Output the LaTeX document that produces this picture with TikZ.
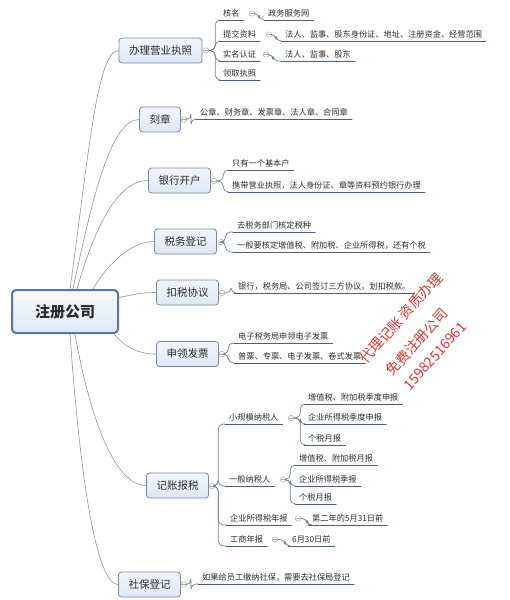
\documentclass[tikz,border=0pt]{standalone}
\usepackage{fontspec}
\setmainfont{Noto Sans CJK SC}
\definecolor{boxfill}{RGB}{221,232,245}
\definecolor{boxline}{RGB}{118,138,168}
\definecolor{rootline}{RGB}{84,118,172}
\definecolor{ulc}{RGB}{72,98,135}
\definecolor{connc}{RGB}{150,150,150}
\definecolor{foldc}{RGB}{165,165,165}
\definecolor{txt}{RGB}{45,45,45}
\definecolor{stamp}{RGB}{232,50,50}
\tikzset{
  root/.style={draw=rootline, line width=2pt, top color=white!80!boxfill, bottom color=boxfill, rounded corners=4pt,
    minimum width=106pt, minimum height=43pt, font=\fontsize{15}{18}\selectfont\bfseries, text=txt},
  topic/.style={draw=boxline, line width=0.8pt, top color=white!60!boxfill, bottom color=boxfill, rounded corners=3pt,
    minimum height=25pt, inner xsep=10pt, font=\fontsize{10.5}{12}\selectfont, text=txt},
  leaf/.style={anchor=south west, inner xsep=4pt, inner ysep=2.5pt, font=\fontsize{8.2}{9}\selectfont, text=txt,
    append after command={(\tikzlastnode.south west) edge[uline] (\tikzlastnode.south east)}},
  uline/.style={draw=ulc, line width=1pt},
  fold/.style={circle, draw=foldc, fill=white, line width=0.5pt, inner sep=0pt, minimum size=5.5pt,
    path picture={\draw[foldc, line width=0.5pt] ([xshift=-1.4pt]path picture bounding box.center) -- ([xshift=1.4pt]path picture bounding box.center);}},
  conn/.style={draw=connc, line width=0.6pt},
  branch/.style={draw=ulc!80!white, line width=0.7pt, rounded corners=5pt},
  stamptext/.style={text=stamp, rotate=48, inner sep=0pt, font=\fontsize{14}{16}\selectfont}
}
\begin{document}
\begin{tikzpicture}[x=1pt,y=1pt,line cap=round,line join=round]
\useasboundingbox (0,0) rectangle (509,-600);
% root and main topics
\node[root] (reg) at (65,-311.5) {注册公司};
\node[topic] (lic) at (160.5,-50.5) {办理营业执照};
\node[topic] (seal) at (160,-119.5) {刻章};
\node[topic] (bank) at (179.5,-180.5) {银行开户};
\node[topic] (taxreg) at (185.5,-241.5) {税务登记};
\node[topic] (deduct) at (187.5,-292.5) {扣税协议};
\node[topic] (invoice) at (187.5,-354) {申领发票};
\node[topic] (books) at (177.5,-485.5) {记账报税};
\node[topic] (social) at (149.5,-584.5) {社保登记};
% curves from the root
\draw[conn] ([xshift=5pt]reg.north) .. controls +(82:130) and +(-22,0) .. (lic.west);
\draw[conn] ([xshift=8pt]reg.north) .. controls +(78:95) and +(-28,0) .. (seal.west);
\draw[conn] ([xshift=12pt]reg.north) .. controls +(74:60) and +(-32,0) .. (bank.west);
\draw[conn] ([xshift=28pt]reg.north) .. controls +(60:25) and +(-25,0) .. (taxreg.west);
\draw[conn] ([yshift=14pt]reg.east) .. controls +(15,3) and +(-15,0) .. (deduct.west);
\draw[conn] ([xshift=-5pt]reg.south east) .. controls +(-50:15) and +(-20,0) .. (invoice.west);
\draw[conn] ([xshift=10pt]reg.south) .. controls +(-80:70) and +(-35,0) .. (books.west);
\draw[conn] ([xshift=5pt]reg.south) .. controls +(-86:160) and +(-20,0) .. (social.west);
% fold markers of the topics
\node[fold] (f1) at (206,-50.5) {};
\node[fold] (f2) at (184,-119.5) {};
\node[fold] (f3) at (214,-181) {};
\node[fold] (f4) at (221,-242) {};
\node[fold] (f5) at (222,-293) {};
\node[fold] (f6) at (222,-354) {};
\node[fold] (f7) at (212,-486) {};
\node[fold] (f8) at (184,-584.5) {};
% 办理营业执照
\node[leaf] (a11) at (219,-20) {核名};
\node[leaf] (a12) at (219,-41) {提交资料};
\node[leaf] (a13) at (219,-61) {实名认证};
\node[leaf] (a14) at (219,-80) {领取执照};
\node[fold] (f11) at (252,-13.5) {};
\node[fold] (f12) at (269,-34.5) {};
\node[fold] (f13) at (266,-54.5) {};
\node[leaf] (b11) at (264,-20) {政务服务网};
\node[leaf] (b12) at (281,-41) {法人、监事、股东身份证、地址、注册资金、经营范围};
\node[leaf] (b13) at (281,-61) {法人、监事、股东};
\draw[branch] (f1.east) -- ++(6.2,0) |- (a11.south west);
\draw[branch] (f1.east) -- ++(6.2,0) |- (a12.south west);
\draw[branch] (f1.east) -- ++(6.2,0) |- (a13.south west);
\draw[branch] (f1.east) -- ++(6.2,0) |- (a14.south west);
\draw[branch] (f11.east) -- ++(4,0) |- (b11.south west);
\draw[branch] (f12.east) -- ++(4,0) |- (b12.south west);
\draw[branch] (f13.east) -- ++(4,0) |- (b13.south west);
% 刻章
\node[leaf] (a21) at (196,-119) {公章、财务章、发票章、法人章、合同章};
\draw[branch] (f2.east) -- ++(4,0) |- (a21.south west);
% 银行开户
\node[leaf] (a31) at (228,-170) {只有一个基本户};
\node[leaf] (a32) at (228,-192) {携带营业执照，法人身份证、章等资料预约银行办理};
\draw[branch] (f3.east) -- ++(6.2,0) |- (a31.south west);
\draw[branch] (f3.east) -- ++(6.2,0) |- (a32.south west);
% 税务登记
\node[leaf] (a41) at (233,-232) {去税务部门核定税种};
\node[leaf] (a42) at (233,-252) {一般要核定增值税、附加税、企业所得税，还有个税};
\draw[branch] (f4.east) -- ++(1.5,0) |- (a41.south west);
\draw[branch] (f4.east) -- ++(1.5,0) |- (a42.south west);
% 扣税协议
\node[leaf] (a51) at (234,-293) {银行，税务局、公司签订三方协议，划扣税款。};
\draw[branch] (f5.east) -- ++(6,0) |- (a51.south west);
% 申领发票
\node[leaf] (a61) at (234,-343) {电子税务局申领电子发票};
\node[leaf] (a62) at (234,-363) {普票、专票、电子发票、卷式发票};
\draw[branch] (f6.east) -- ++(3.2,0) |- (a61.south west);
\draw[branch] (f6.east) -- ++(3.2,0) |- (a62.south west);
% 记账报税
\node[leaf] (a71) at (225,-424) {小规模纳税人};
\node[leaf] (a72) at (225,-486) {一般纳税人};
\node[leaf] (a73) at (226,-525) {企业所得税年报};
\node[leaf] (a74) at (226,-546) {工商年报};
\draw[branch] (f7.east) -- ++(3.2,0) |- (a71.south west);
\draw[branch] (f7.east) -- ++(3.2,0) |- (a72.south west);
\draw[branch] (f7.east) -- ++(3.2,0) |- (a73.south west);
\draw[branch] (f7.east) -- ++(3.2,0) |- (a74.south west);
\node[fold] (f71) at (291,-418) {};
\node[fold] (f72) at (283,-479.5) {};
\node[fold] (f73) at (298,-518.5) {};
\node[fold] (f74) at (275,-539.5) {};
\node[leaf] (b711) at (304,-404) {增值税、附加税季度申报};
\node[leaf] (b712) at (304,-424) {企业所得税季度申报};
\node[leaf] (b713) at (304,-445) {个税月报};
\node[leaf] (b721) at (295,-465) {增值税、附加税月报};
\node[leaf] (b722) at (295,-486) {企业所得税季报};
\node[leaf] (b723) at (295,-504) {个税月报};
\node[leaf] (b731) at (308,-525) {第二年的5月31日前};
\node[leaf] (b741) at (288,-546) {6月30日前};
\draw[branch] (f71.east) -- ++(6.2,0) |- (b711.south west);
\draw[branch] (f71.east) -- ++(6.2,0) |- (b712.south west);
\draw[branch] (f71.east) -- ++(6.2,0) |- (b713.south west);
\draw[branch] (f72.east) -- ++(4.2,0) |- (b721.south west);
\draw[branch] (f72.east) -- ++(4.2,0) |- (b722.south west);
\draw[branch] (f72.east) -- ++(4.2,0) |- (b723.south west);
\draw[branch] (f73.east) -- ++(6,0) |- (b731.south west);
\draw[branch] (f74.east) -- ++(7,0) |- (b741.south west);
% 社保登记
\node[leaf] (a81) at (198,-584) {如果给员工缴纳社保，需要去社保局登记};
\draw[branch] (f8.east) -- ++(4,0) |- (a81.south west);
% red stamp
\node[stamptext] (wm1) at (401,-318) {代理记账 资质办理};
\node[stamptext] (wm2) at (417,-342) {免费注册公司};
\node[stamptext] (wm3) at (435,-356) {15982516961};
\end{tikzpicture}
\end{document}
